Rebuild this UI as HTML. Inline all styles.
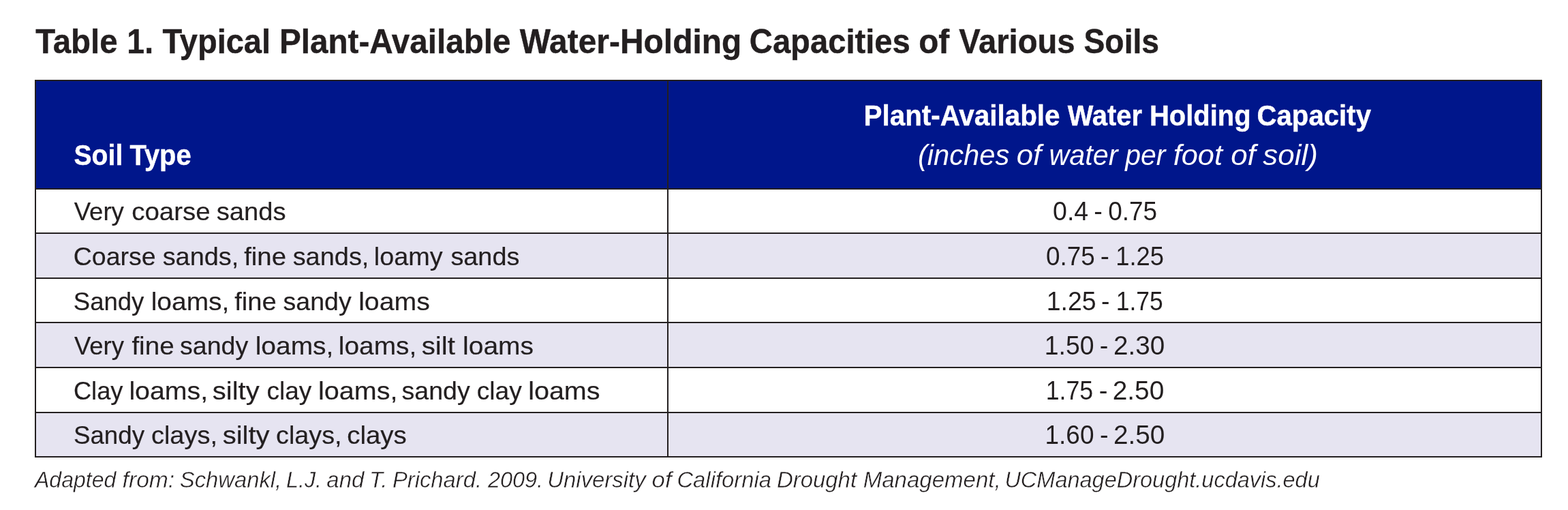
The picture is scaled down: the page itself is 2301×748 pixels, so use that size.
<!DOCTYPE html>
<html lang="en">
<head>
<meta charset="utf-8">
<title>Table 1. Typical Plant-Available Water-Holding Capacities of Various Soils</title>
<style>
html,body{margin:0;padding:0;background:#fff}
body{position:relative;box-sizing:border-box;width:2301px;height:748px;padding:117px 0 0 51px;overflow:hidden;font-family:"Liberation Sans",sans-serif;color:#231f20}
h1,p,table,th,td{margin:0;padding:0;font-weight:400;font-size:inherit}
.x{position:absolute;left:0;display:block;white-space:nowrap;line-height:1}
.x span{position:absolute;left:0;top:0;transform-origin:0 0}
h1 .x,th .x{font-weight:700}
th .x{color:#fff}
th .x.u{font-weight:400;font-style:italic}
.src .x{font-style:italic}
table.soil{width:2212px;border-collapse:separate;border-spacing:0;table-layout:fixed;border-top:2px solid #231f20;border-left:2px solid #231f20}
.soil th,.soil td{box-sizing:border-box;border-right:2px solid #231f20;border-bottom:2px solid #231f20}
.soil col.c1{width:928px}.soil col.c2{width:1282px}
.soil thead th{height:159px;background:#00168b}
.soil tbody tr:nth-child(even) td{background:#e6e4f1}
.soil tbody tr:nth-child(1) td{height:65px}
.soil tbody tr:nth-child(2) td{height:66px}
.soil tbody tr:nth-child(3) td{height:65px}
.soil tbody tr:nth-child(4) td{height:66px}
.soil tbody tr:nth-child(5) td{height:66px}
.soil tbody tr:nth-child(6) td{height:65px}
h1 .x{font-size:50px;-webkit-text-stroke:0.45px #231f20}
th .x{font-size:42.5px;-webkit-text-stroke:0.4px #fff}
th .x.u{font-size:42px;-webkit-text-stroke:0}
td .x{font-size:37px;-webkit-text-stroke:0.2px #231f20}
td+td .x{font-size:38px;-webkit-text-stroke:0}
.src .x{font-size:34px;-webkit-text-stroke:0.45px #fff}
#t0{top:36px}
#h1{top:207px}
#h2{top:149px}
#h3{top:207px}
#a1{top:292px}
#a2{top:358px}
#a3{top:424px}
#a4{top:489px}
#a5{top:555px}
#a6{top:620px}
#b1{top:291px}
#b2{top:357px}
#b3{top:423px}
#b4{top:488px}
#b5{top:554px}
#b6{top:619px}
#src{top:686px}
</style>
</head>
<body>
<h1><span class="x" id="t0"><span style="transform:translateX(52.22px) scaleX(0.9492)">Table</span> <span style="transform:translateX(186.32px) scaleX(0.9281)">1.</span> <span style="transform:translateX(238.54px) scaleX(0.9405)">Typical</span> <span style="transform:translateX(409.97px) scaleX(0.9523)">Plant-Available</span> <span style="transform:translateX(762.65px) scaleX(0.9583)">Water-Holding</span> <span style="transform:translateX(1099.8px) scaleX(0.9437)">Capacities</span> <span style="transform:translateX(1348.28px) scaleX(0.9523)">of</span> <span style="transform:translateX(1407.17px) scaleX(0.9431)">Various</span> <span style="transform:translateX(1590.52px) scaleX(0.9251)">Soils</span></span></h1>
<table class="soil">
<colgroup><col class="c1"><col class="c2"></colgroup>
<thead>
<tr>
<th scope="col"><span class="x" id="h1"><span style="transform:translateX(108.51px) scaleX(0.9208)">Soil</span> <span style="transform:translateX(190.45px) scaleX(0.9403)">Type</span></span></th>
<th scope="col"><span class="x" id="h2"><span style="transform:translateX(1267.55px) scaleX(0.95)">Plant-Available</span> <span style="transform:translateX(1566.75px) scaleX(0.9373)">Water</span> <span style="transform:translateX(1686.89px) scaleX(0.9404)">Holding</span> <span style="transform:translateX(1844.46px) scaleX(0.9456)">Capacity</span></span>
<span class="x u" id="h3"><span style="transform:translateX(1346.98px) scaleX(0.992)">(inches</span> <span style="transform:translateX(1491.8px) scaleX(1.0393)">of</span> <span style="transform:translateX(1539.53px) scaleX(0.9833)">water</span> <span style="transform:translateX(1651.26px) scaleX(0.9743)">per</span> <span style="transform:translateX(1721.64px) scaleX(1.0318)">foot</span> <span style="transform:translateX(1806.2px) scaleX(1.045)">of</span> <span style="transform:translateX(1853.36px) scaleX(1.0438)">soil)</span></span></th>
</tr>
</thead>
<tbody>
<tr>
<td><span class="x" id="a1"><span style="transform:translateX(108.63px) scaleX(0.9902)">Very</span> <span style="transform:translateX(193.18px) scaleX(1.0392)">coarse</span> <span style="transform:translateX(317.65px) scaleX(1.0325)">sands</span></span></td>
<td><span class="x" id="b1"><span style="transform:translateX(1545.05px) scaleX(0.9856)">0.4</span> <span style="transform:translateX(1605.13px) scaleX(0.9913)">-</span> <span style="transform:translateX(1626.17px) scaleX(0.9719)">0.75</span></span></td>
</tr>
<tr>
<td><span class="x" id="a2"><span style="transform:translateX(107.73px) scaleX(1.0134)">Coarse</span> <span style="transform:translateX(238.69px) scaleX(1.0235)">sands,</span> <span style="transform:translateX(358.21px) scaleX(1.0359)">fine</span> <span style="transform:translateX(429.63px) scaleX(1.0251)">sands,</span> <span style="transform:translateX(548.86px) scaleX(1.0216)">loamy</span> <span style="transform:translateX(661.4px) scaleX(1.0224)">sands</span></span></td>
<td><span class="x" id="b2"><span style="transform:translateX(1535.06px) scaleX(0.9693)">0.75</span> <span style="transform:translateX(1614.7px) scaleX(1.0389)">-</span> <span style="transform:translateX(1637.16px) scaleX(0.9579)">1.25</span></span></td>
</tr>
<tr>
<td><span class="x" id="a3"><span style="transform:translateX(107.79px) scaleX(0.9871)">Sandy</span> <span style="transform:translateX(221.73px) scaleX(1.0516)">loams,</span> <span style="transform:translateX(344.26px) scaleX(1.0313)">fine</span> <span style="transform:translateX(415.59px) scaleX(1.0146)">sandy</span> <span style="transform:translateX(526.15px) scaleX(1.0608)">loams</span></span></td>
<td><span class="x" id="b3"><span style="transform:translateX(1535.66px) scaleX(0.9853)">1.25</span> <span style="transform:translateX(1616.09px) scaleX(0.9802)">-</span> <span style="transform:translateX(1637.81px) scaleX(0.9324)">1.75</span></span></td>
</tr>
<tr>
<td><span class="x" id="a4"><span style="transform:translateX(108.95px) scaleX(0.9862)">Very</span> <span style="transform:translateX(193.4px) scaleX(1.0425)">fine</span> <span style="transform:translateX(264.08px) scaleX(1.0148)">sandy</span> <span style="transform:translateX(374.73px) scaleX(1.0513)">loams,</span> <span style="transform:translateX(496.82px) scaleX(1.0493)">loams,</span> <span style="transform:translateX(618.74px) scaleX(1.0878)">silt</span> <span style="transform:translateX(679.08px) scaleX(1.053)">loams</span></span></td>
<td><span class="x" id="b4"><span style="transform:translateX(1532.84px) scaleX(0.9822)">1.50</span> <span style="transform:translateX(1613.87px) scaleX(0.9935)">-</span> <span style="transform:translateX(1633.94px) scaleX(1.0167)">2.30</span></span></td>
</tr>
<tr>
<td><span class="x" id="a5"><span style="transform:translateX(107.88px) scaleX(0.9804)">Clay</span> <span style="transform:translateX(189.38px) scaleX(1.0626)">loams,</span> <span style="transform:translateX(311.83px) scaleX(1.0802)">silty</span> <span style="transform:translateX(391.44px) scaleX(1.0001)">clay</span> <span style="transform:translateX(466.93px) scaleX(1.0686)">loams,</span> <span style="transform:translateX(589.59px) scaleX(1.0146)">sandy</span> <span style="transform:translateX(699.67px) scaleX(1.004)">clay</span> <span style="transform:translateX(775.13px) scaleX(1.0681)">loams</span></span></td>
<td><span class="x" id="b5"><span style="transform:translateX(1534.65px) scaleX(0.9399)">1.75</span> <span style="transform:translateX(1612.69px) scaleX(1.0061)">-</span> <span style="transform:translateX(1632.67px) scaleX(1.0226)">2.50</span></span></td>
</tr>
<tr>
<td><span class="x" id="a6"><span style="transform:translateX(107.88px) scaleX(0.9934)">Sandy</span> <span style="transform:translateX(221.92px) scaleX(1.0262)">clays,</span> <span style="transform:translateX(326.67px) scaleX(1.0822)">silty</span> <span style="transform:translateX(405.09px) scaleX(1.0193)">clays,</span> <span style="transform:translateX(509.22px) scaleX(1.0388)">clays</span></span></td>
<td><span class="x" id="b6"><span style="transform:translateX(1533.58px) scaleX(0.9713)">1.60</span> <span style="transform:translateX(1613.89px) scaleX(0.994)">-</span> <span style="transform:translateX(1634.02px) scaleX(1.0183)">2.50</span></span></td>
</tr>
</tbody>
</table>
<p class="src"><span class="x" id="src"><span style="transform:translateX(50.94px) scaleX(0.9425)">Adapted</span> <span style="transform:translateX(179.59px) scaleX(0.9888)">from:</span> <span style="transform:translateX(263.84px) scaleX(0.964)">Schwankl,</span> <span style="transform:translateX(419.88px) scaleX(0.9523)">L.J.</span> <span style="transform:translateX(479.32px) scaleX(0.9692)">and</span> <span style="transform:translateX(542.07px) scaleX(0.9693)">T.</span> <span style="transform:translateX(575.9px) scaleX(0.9641)">Prichard.</span> <span style="transform:translateX(715.93px) scaleX(0.9532)">2009.</span> <span style="transform:translateX(803.27px) scaleX(0.9675)">University</span> <span style="transform:translateX(956.62px) scaleX(1.0208)">of</span> <span style="transform:translateX(993.4px) scaleX(0.9651)">California</span> <span style="transform:translateX(1139.89px) scaleX(0.9689)">Drought</span> <span style="transform:translateX(1266.69px) scaleX(0.9713)">Management,</span> <span style="transform:translateX(1474.39px) scaleX(0.9556)">UCManageDrought.ucdavis.edu</span></span></p>
</body>
</html>
